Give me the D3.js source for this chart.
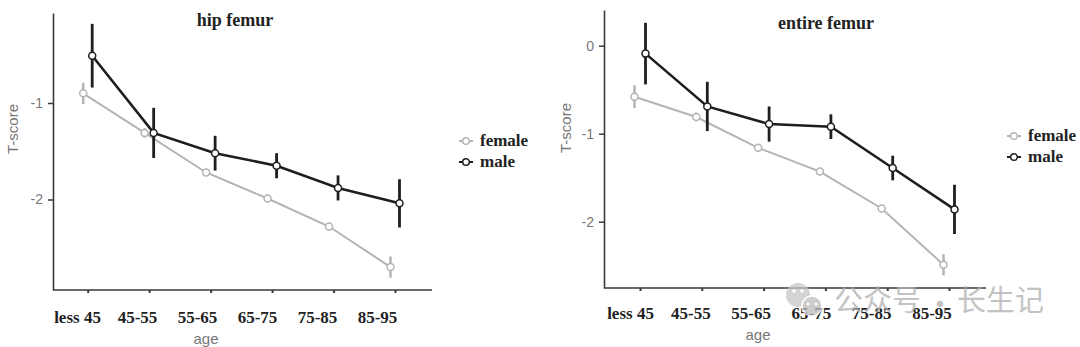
<!DOCTYPE html>
<html>
<head>
<meta charset="utf-8">
<script src="https://cdn.jsdelivr.net/npm/d3@7"></script>
<style>
body{margin:0;background:#fff;}
svg{display:block;}
</style>
</head>
<body>
<script>
const WIDTH = 1080;
const HEIGHT = 347;

// data
var ageGroups = ["less 45","45-55","55-65","65-75","75-85","85-95"];
var seriesNames = ["female","male"];

var hipFemale    = [-0.90,-1.31,-1.72,-1.99,-2.28,-2.70];
var hipFemaleErr = [0.11,0.05,0.03,0.04,0.04,0.11];
var hipMale      = [-0.51,-1.31,-1.52,-1.65,-1.88,-2.04];
var hipMaleErr   = [0.33,0.26,0.18,0.13,0.13,0.25];

var entireFemale    = [-0.58,-0.81,-1.16,-1.43,-1.85,-2.49];
var entireFemaleErr = [0.13,0.05,0.04,0.04,0.04,0.12];
var entireMale      = [-0.09,-0.69,-0.89,-0.92,-1.39,-1.86];
var entireMaleErr   = [0.35,0.28,0.20,0.14,0.14,0.28];

var hipTicks = [-2,-1];
var entireTicks = [-2,-1,0];

var FEMALE_COLOR = '#b4b4b4';
var MALE_COLOR = '#1e1e1e';
var SERIF = '"Liberation Serif","Times New Roman",serif';
var SANS = '"Liberation Sans",Arial,sans-serif';

var svg = d3.select('body').append('svg')
	.attr('width', WIDTH)
	.attr('height', HEIGHT);

var drawPanel = function(cfg){
	var g = svg.append('g');

	var x = d3.scalePoint().domain(ageGroups).range(cfg.tickRange);
	var xLab = d3.scalePoint().domain(ageGroups).range(cfg.labelRange);

	// y scale calibrated on two ticks, then stretched to the axis box
	var y = d3.scaleLinear().domain(cfg.calib).range(cfg.calibPx);
	y.domain([y.invert(cfg.bottom), y.invert(cfg.top)]).range([cfg.bottom, cfg.top]);

	// axes lines
	g.append('line')
		.attr('x1', cfg.left).attr('x2', cfg.right)
		.attr('y1', cfg.bottom).attr('y2', cfg.bottom)
		.style('stroke','#3a3a3a').style('stroke-width',1.6);

	var yAxis = d3.axisLeft(y).tickValues(cfg.yTicks).tickSize(5).tickSizeOuter(0).tickPadding(5)
		.tickFormat(function(d){ return String(d); });
	var ya = g.append('g')
		.attr('transform','translate('+cfg.left+',0)')
		.call(yAxis);
	ya.select('.domain').style('stroke','#3a3a3a').style('stroke-width',1.6);
	ya.selectAll('.tick line').style('stroke','#3a3a3a').style('stroke-width',1.5);
	ya.selectAll('.tick text').style('font-family',SANS).style('font-size','14px').style('fill','#777');

	var xAxis = d3.axisBottom(x).tickSize(3).tickFormat('');
	var xa = g.append('g')
		.attr('transform','translate(0,'+cfg.bottom+')')
		.call(xAxis);
	xa.select('.domain').remove();
	xa.selectAll('.tick line').style('stroke','#3a3a3a').style('stroke-width',2);

	var xLabAxis = d3.axisBottom(xLab).tickSize(0).tickPadding(0);
	var xl = g.append('g')
		.attr('transform','translate(0,'+cfg.labelY+')')
		.call(xLabAxis);
	xl.select('.domain').remove();
	xl.selectAll('.tick text')
		.attr('dy','0.35em')
		.style('font-family',SERIF).style('font-weight','bold')
		.style('font-size','17px').style('fill','#222');

	// titles
	g.append('text')
		.attr('x', cfg.titleX).attr('y', cfg.titleY)
		.attr('text-anchor','middle')
		.style('font-family',SERIF).style('font-weight','bold')
		.style('font-size','18px').style('fill','#222')
		.text(cfg.title);

	g.append('text')
		.attr('x', cfg.ageX).attr('y', cfg.ageY)
		.attr('text-anchor','middle').attr('dy','0.35em')
		.style('font-family',SANS).style('font-size','15px').style('fill','#777')
		.text('age');

	g.append('text')
		.attr('transform','translate('+cfg.yLabX+','+cfg.yLabY+') rotate(-90)')
		.attr('text-anchor','middle').attr('dy','0.35em')
		.style('font-family',SANS).style('font-size','15px').style('fill','#777')
		.text('T-score');

	var series = [
		{name:'female', values:cfg.female, err:cfg.femaleErr, color:FEMALE_COLOR, off:-cfg.dodge, lw:2, ew:2.5},
		{name:'male', values:cfg.male, err:cfg.maleErr, color:MALE_COLOR, off:cfg.dodge, lw:2.6, ew:2.8}
	];

	series.forEach(function(s){
		var pts = ageGroups.map(function(c,i){ return {cat:c, v:s.values[i], e:s.err[i]}; });
		var line = d3.line()
			.x(function(d){ return x(d.cat)+s.off; })
			.y(function(d){ return y(d.v); });

		g.append('path')
			.datum(pts)
			.attr('d', line)
			.style('fill','none')
			.style('stroke', s.color)
			.style('stroke-width', s.lw);

		g.selectAll('.err-'+s.name)
			.data(pts)
			.enter().append('line')
			.attr('class','err-'+s.name)
			.attr('x1', function(d){ return x(d.cat)+s.off; })
			.attr('x2', function(d){ return x(d.cat)+s.off; })
			.attr('y1', function(d){ return y(d.v+d.e); })
			.attr('y2', function(d){ return y(d.v-d.e); })
			.style('stroke', s.color)
			.style('stroke-width', s.ew);

		g.selectAll('.pt-'+s.name)
			.data(pts)
			.enter().append('circle')
			.attr('class','pt-'+s.name)
			.attr('cx', function(d){ return x(d.cat)+s.off; })
			.attr('cy', function(d){ return y(d.v); })
			.attr('r', 3.5)
			.style('fill','#fff')
			.style('stroke', s.color)
			.style('stroke-width',1.5);
	});

	// legend
	var leg = g.append('g').attr('transform','translate('+cfg.legX+','+cfg.legY+')');
	var legY = d3.scalePoint().domain(seriesNames).range([0, cfg.legGap]);
	series.forEach(function(s){
		var row = leg.append('g').attr('transform','translate(0,'+legY(s.name)+')');
		row.append('line')
			.attr('x1',-8).attr('x2',6).attr('y1',0).attr('y2',0)
			.style('stroke', s.color).style('stroke-width',2);
		row.append('circle')
			.attr('cx',-1).attr('cy',0).attr('r',3.3)
			.style('fill','#fff').style('stroke',s.color).style('stroke-width',1.5);
		row.append('text')
			.attr('x',13).attr('y',0).attr('dy','0.32em')
			.style('font-family',SERIF).style('font-weight','bold')
			.style('font-size','17px').style('fill','#222')
			.text(s.name);
	});
}

drawPanel({
	title:'hip femur', titleX:235, titleY:26,
	left:53, right:432, top:13, bottom:290,
	tickRange:[87.7,395], labelRange:[77,377], labelY:317,
	calib:[-2,-1], calibPx:[199.5,103], yTicks:hipTicks,
	dodge:4.5,
	female:hipFemale, femaleErr:hipFemaleErr, male:hipMale, maleErr:hipMaleErr,
	ageX:206, ageY:339, yLabX:13, yLabY:129,
	legX:467, legY:141, legGap:21
});

drawPanel({
	title:'entire femur', titleX:826, titleY:29,
	left:604, right:986, top:10, bottom:288,
	tickRange:[640,949], labelRange:[630,931.5], labelY:313,
	calib:[-2,0], calibPx:[221.7,45.7], yTicks:entireTicks,
	dodge:5.5,
	female:entireFemale, femaleErr:entireFemaleErr, male:entireMale, maleErr:entireMaleErr,
	ageX:758, ageY:335, yLabX:566, yLabY:128,
	legX:1015, legY:136, legGap:21
});

// watermark
var wm = svg.append('g').style('opacity',0.75);
wm.append('circle').attr('cx',798).attr('cy',295).attr('r',12).style('fill','#c6c6c6');
wm.append('circle').attr('cx',794).attr('cy',291).attr('r',1.8).style('fill','#fff');
wm.append('circle').attr('cx',802).attr('cy',291).attr('r',1.8).style('fill','#fff');
wm.append('circle').attr('cx',812).attr('cy',306).attr('r',10).style('fill','#bcbcbc').style('stroke','#fff').style('stroke-width',1.5);
wm.append('circle').attr('cx',808).attr('cy',304).attr('r',1.6).style('fill','#fff');
wm.append('circle').attr('cx',816).attr('cy',304).attr('r',1.6).style('fill','#fff');
var wmFont = '"Noto Sans CJK SC",sans-serif';
wm.append('text').attr('x',834).attr('y',301).attr('dy','0.35em')
	.style('font-family',wmFont).style('font-size','29px').style('fill','#b0b0b0').text('公众号');
wm.append('text').attr('x',940).attr('y',305).attr('dy','0.35em').attr('text-anchor','middle')
	.style('font-family',wmFont).style('font-size','29px').style('fill','#b0b0b0').text('·');
wm.append('text').attr('x',957).attr('y',301).attr('dy','0.35em')
	.style('font-family',wmFont).style('font-size','29px').style('fill','#b0b0b0').text('长生记');
</script>
</body>
</html>
